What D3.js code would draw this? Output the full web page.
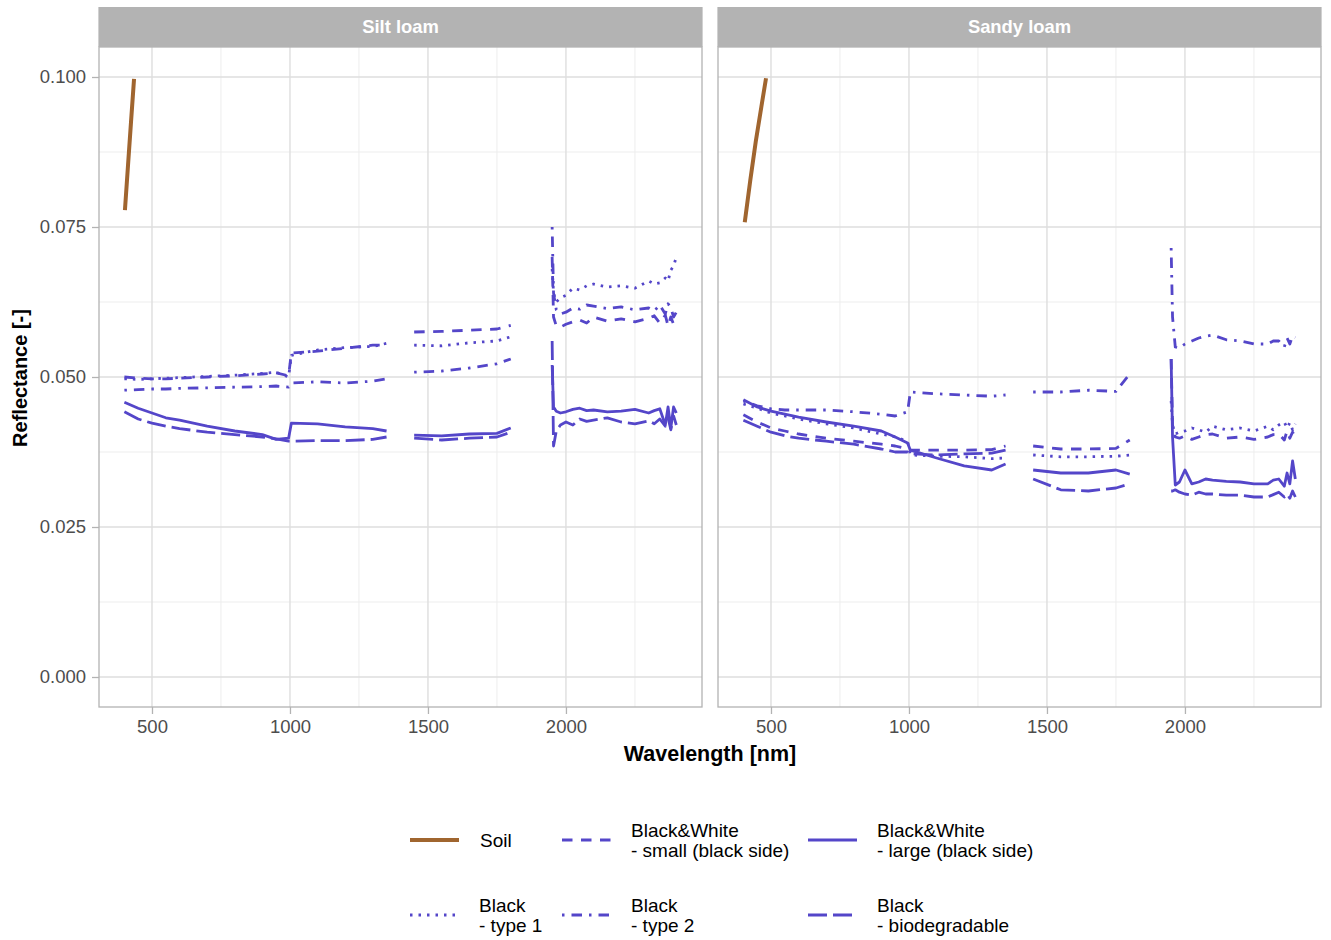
<!DOCTYPE html>
<html>
<head>
<meta charset="utf-8">
<script src="https://cdn.jsdelivr.net/npm/d3@7"></script>
<style>
  body { margin: 0; background: #fff; }
  text { font-family: "Liberation Sans", Arial, sans-serif; }
</style>
</head>
<body>
<script>
// ---- data ----
// wavelength grid (nm); null = removed water absorption band
var wavelengths = [400,450,500,550,600,700,800,900,950,995,
  1005,1100,1200,1300,1350, null,
  1450,1550,1650,1750,1800, null,
  1950,1955,1965,1980,2000,2025,2050,2075,2100,2150,2200,2250,2300,2320,2340,2360,2370,2380,2390,2400];

var soilWlSilt = [402,413,424,435];
var soilSilt = [0.0778,0.0852,0.0925,0.0997];
var soilWlSandy = [405,425,445,465,482];
var soilSandy = [0.0758,0.0828,0.0893,0.0950,0.0998];

var siltBwSmall = [0.0500,0.0498,0.0497,0.0497,0.0498,0.0500,0.0502,0.0505,0.0507,0.0502,
  0.0540,0.0543,0.0548,0.0553,0.0553, null,
  0.0575,0.0576,0.0578,0.0580,0.0586, null,
  0.0700,0.0600,0.0585,0.0583,0.0588,0.0592,0.0595,0.0590,0.0600,0.0593,0.0597,0.0592,0.0598,0.0602,0.0590,0.0603,0.0585,0.0600,0.0588,0.0582];
var siltBwLarge = [0.0458,0.0448,0.0440,0.0432,0.0428,0.0418,0.0410,0.0404,0.0396,0.0398,
  0.0423,0.0422,0.0417,0.0414,0.0410, null,
  0.0403,0.0402,0.0405,0.0406,0.0415, null,
  0.0520,0.0450,0.0443,0.0440,0.0442,0.0446,0.0448,0.0444,0.0445,0.0442,0.0443,0.0446,0.0440,0.0444,0.0447,0.0420,0.0450,0.0415,0.0450,0.0440];
var siltType1 = [0.0497,0.0496,0.0497,0.0498,0.0499,0.0501,0.0503,0.0506,0.0508,0.0500,
  0.0536,0.0545,0.0549,0.0551,0.0556, null,
  0.0553,0.0552,0.0557,0.0560,0.0567, null,
  0.0680,0.0640,0.0625,0.0632,0.0636,0.0648,0.0645,0.0652,0.0655,0.0650,0.0652,0.0648,0.0660,0.0655,0.0657,0.0665,0.0660,0.0678,0.0685,0.0700];
var siltType2 = [0.0478,0.0479,0.0480,0.0480,0.0481,0.0482,0.0483,0.0484,0.0485,0.0483,
  0.0490,0.0492,0.0490,0.0493,0.0497, null,
  0.0508,0.0510,0.0515,0.0522,0.0530, null,
  0.0750,0.0640,0.0612,0.0605,0.0608,0.0615,0.0613,0.0620,0.0618,0.0614,0.0617,0.0612,0.0615,0.0610,0.0620,0.0605,0.0622,0.0616,0.0600,0.0608];
var siltBiodeg = [0.0442,0.0430,0.0423,0.0418,0.0414,0.0408,0.0404,0.0400,0.0397,0.0393,
  0.0393,0.0394,0.0394,0.0396,0.0400, null,
  0.0398,0.0395,0.0398,0.0400,0.0408, null,
  0.0560,0.0385,0.0410,0.0420,0.0425,0.0420,0.0430,0.0426,0.0428,0.0432,0.0425,0.0422,0.0427,0.0422,0.0430,0.0418,0.0432,0.0412,0.0435,0.0420];

var sandyBwSmall = [0.0437,0.0425,0.0415,0.0410,0.0405,0.0398,0.0393,0.0388,0.0385,0.0380,
  0.0378,0.0378,0.0378,0.0379,0.0385, null,
  0.0385,0.0380,0.0380,0.0381,0.0395, null,
  0.0530,0.0420,0.0400,0.0398,0.0402,0.0396,0.0400,0.0404,0.0405,0.0398,0.0400,0.0396,0.0400,0.0404,0.0405,0.0395,0.0410,0.0398,0.0408,0.0400];
var sandyBwLarge = [0.0462,0.0450,0.0443,0.0438,0.0433,0.0425,0.0418,0.0410,0.0400,0.0390,
  0.0378,0.0365,0.0352,0.0345,0.0355, null,
  0.0345,0.0340,0.0340,0.0345,0.0338, null,
  0.0530,0.0400,0.0320,0.0325,0.0345,0.0322,0.0325,0.0330,0.0328,0.0326,0.0325,0.0322,0.0322,0.0328,0.0330,0.0318,0.0340,0.0322,0.0360,0.0330];
var sandyType1 = [0.0455,0.0448,0.0440,0.0435,0.0430,0.0422,0.0415,0.0405,0.0400,0.0393,
  0.0370,0.0368,0.0367,0.0364,0.0365, null,
  0.0370,0.0367,0.0367,0.0368,0.0370, null,
  0.0460,0.0420,0.0405,0.0408,0.0410,0.0415,0.0412,0.0408,0.0418,0.0412,0.0415,0.0410,0.0418,0.0412,0.0420,0.0425,0.0415,0.0424,0.0412,0.0422];
var sandyType2 = [0.0460,0.0452,0.0447,0.0445,0.0445,0.0445,0.0442,0.0438,0.0435,0.0442,
  0.0475,0.0472,0.0470,0.0468,0.0470, null,
  0.0475,0.0475,0.0478,0.0476,0.0505, null,
  0.0715,0.0600,0.0550,0.0548,0.0555,0.0560,0.0565,0.0568,0.0570,0.0562,0.0560,0.0555,0.0555,0.0560,0.0560,0.0550,0.0565,0.0555,0.0568,0.0566];
var sandyBiodeg = [0.0428,0.0418,0.0408,0.0402,0.0398,0.0393,0.0388,0.0380,0.0375,0.0375,
  0.0372,0.0370,0.0372,0.0373,0.0378, null,
  0.0330,0.0312,0.0310,0.0315,0.0322, null,
  0.0310,0.0310,0.0312,0.0308,0.0305,0.0303,0.0308,0.0305,0.0305,0.0303,0.0303,0.0300,0.0300,0.0304,0.0308,0.0300,0.0305,0.0298,0.0310,0.0300];

var panelNames = ["Silt loam", "Sandy loam"];
var seriesLabels = [["Soil"], ["Black&White", "- small (black side)"], ["Black&White", "- large (black side)"],
  ["Black", "- type 1"], ["Black", "- type 2"], ["Black", "- biodegradable"]];
var xTicks = [500, 1000, 1500, 2000];
var xMinor = [750, 1250, 1750, 2250];
var yTicks = [0, 0.025, 0.05, 0.075, 0.1];
var yMinor = [0.0125, 0.0375, 0.0625, 0.0875];

// ---- styles ----
var purple = "#5446c9";
var brown = "#a0652f";
var dashes = ["none", "10.5,8.5", "none", "2.5,6", "2.5,7,10.5,7", "19,6"];
var colors = [brown, purple, purple, purple, purple, purple];
var widths = [4, 2.8, 2.8, 2.8, 2.8, 2.8];

var w = 1331, h = 940;
var panelW = 603, panelH = 660, panelTop = 47;
var panelX = [99, 718];

var svg = d3.select("body").append("svg")
  .attr("width", w)
  .attr("height", h)
  .style("background-color", "white");

var xScale = d3.scaleLinear().domain([308, 2493]).range([0, panelW]);
var yScale = d3.scaleLinear().domain([-0.005, 0.105]).range([panelH, 0]);

var panelSeries = [
  [siltBwSmall, siltBwLarge, siltType1, siltType2, siltBiodeg],
  [sandyBwSmall, sandyBwLarge, sandyType1, sandyType2, sandyBiodeg]
];
var soilData = [[soilWlSilt, soilSilt], [soilWlSandy, soilSandy]];

var line = d3.line()
  .defined(function(d){ return d[0] != null && d[1] != null; })
  .x(function(d){ return xScale(d[0]); })
  .y(function(d){ return yScale(d[1]); });

svg.append("defs").append("clipPath").attr("id", "clip")
  .append("rect").attr("width", panelW).attr("height", panelH);

panelNames.forEach(function(name, p){
  var g = svg.append("g").attr("transform", "translate(" + panelX[p] + "," + panelTop + ")");

  // minor grid
  g.append("g").selectAll("line").data(xMinor).join("line")
    .attr("x1", function(d){ return xScale(d); }).attr("x2", function(d){ return xScale(d); })
    .attr("y1", 0).attr("y2", panelH)
    .attr("stroke", "#ededed").attr("stroke-width", 1);
  g.append("g").selectAll("line").data(yMinor).join("line")
    .attr("y1", function(d){ return yScale(d); }).attr("y2", function(d){ return yScale(d); })
    .attr("x1", 0).attr("x2", panelW)
    .attr("stroke", "#ededed").attr("stroke-width", 1);
  // major grid
  g.append("g").selectAll("line").data(xTicks).join("line")
    .attr("x1", function(d){ return xScale(d); }).attr("x2", function(d){ return xScale(d); })
    .attr("y1", 0).attr("y2", panelH)
    .attr("stroke", "#dedede").attr("stroke-width", 1.4);
  g.append("g").selectAll("line").data(yTicks).join("line")
    .attr("y1", function(d){ return yScale(d); }).attr("y2", function(d){ return yScale(d); })
    .attr("x1", 0).attr("x2", panelW)
    .attr("stroke", "#dedede").attr("stroke-width", 1.4);

  var lines = g.append("g").attr("clip-path", "url(#clip)");

  // soil
  var soil = soilData[p];
  lines.append("path")
    .datum(d3.zip(soil[0], soil[1]))
    .attr("d", line)
    .attr("fill", "none")
    .attr("stroke", colors[0])
    .attr("stroke-width", widths[0]);

  panelSeries[p].forEach(function(vals, i){
    lines.append("path")
      .datum(d3.zip(wavelengths, vals))
      .attr("d", line)
      .attr("fill", "none")
      .attr("stroke", colors[i + 1])
      .attr("stroke-width", widths[i + 1])
      .attr("stroke-dasharray", dashes[i + 1])
      .attr("stroke-linejoin", "round");
  });

  // border
  g.append("rect").attr("width", panelW).attr("height", panelH)
    .attr("fill", "none").attr("stroke", "#b3b3b3").attr("stroke-width", 1.3);

  // strip
  g.append("rect").attr("x", -0.6).attr("y", -40).attr("width", panelW + 1.2).attr("height", 40)
    .attr("fill", "#b3b3b3");
  g.append("text").attr("x", panelW / 2).attr("y", -20).attr("dy", "0.35em")
    .attr("text-anchor", "middle").attr("fill", "white")
    .attr("font-size", "18.4px").attr("font-weight", "bold")
    .text(name);

  // x axis
  var xAxis = g.append("g").attr("transform", "translate(0," + panelH + ")")
    .call(d3.axisBottom(xScale).tickValues(xTicks).tickSize(7).tickPadding(6).tickFormat(d3.format("d")));
  xAxis.select(".domain").remove();
  xAxis.selectAll("line").attr("stroke", "#b3b3b3").attr("stroke-width", 1.3);
  xAxis.selectAll("text").attr("fill", "#4d4d4d").attr("font-size", "18.5px")
    .style("font-family", "'Liberation Sans', Arial, sans-serif");

  if (p === 0) {
    var yAxis = g.append("g")
      .call(d3.axisLeft(yScale).tickValues(yTicks).tickSize(7).tickPadding(6).tickFormat(d3.format(".3f")));
    yAxis.select(".domain").remove();
    yAxis.selectAll("line").attr("stroke", "#b3b3b3").attr("stroke-width", 1.3);
    yAxis.selectAll("text").attr("fill", "#4d4d4d").attr("font-size", "18.5px")
      .style("font-family", "'Liberation Sans', Arial, sans-serif");
  }
});

// axis titles
svg.append("text").attr("x", 710).attr("y", 761)
  .attr("text-anchor", "middle").attr("font-size", "21.5px").attr("font-weight", "bold")
  .attr("fill", "black").text("Wavelength [nm]");
svg.append("text").attr("transform", "translate(27,378) rotate(-90)")
  .attr("text-anchor", "middle").attr("font-size", "20px").attr("font-weight", "bold")
  .attr("fill", "black").text("Reflectance [-]");

// legend
var keyX = [410, 562, 808];
var rowY = [840, 915];
var legend = svg.append("g");
seriesLabels.forEach(function(lab, i){
  var col = i % 3, row = Math.floor(i / 3);
  var kx = keyX[col], ky = rowY[row];
  legend.append("path")
    .datum([[kx, ky], [kx + 49, ky]])
    .attr("d", d3.line())
    .attr("stroke", colors[i])
    .attr("stroke-width", widths[i])
    .attr("stroke-dasharray", dashes[i])
    .attr("fill", "none");
  var t = legend.append("text").attr("x", kx + 70).attr("y", ky)
    .attr("font-size", "19px").attr("fill", "black");
  if (lab.length === 1) {
    t.append("tspan").attr("x", kx + 70).attr("dy", "0.35em").text(lab[0]);
  } else {
    t.append("tspan").attr("x", kx + 69).attr("dy", "-0.18em").text(lab[0]);
    t.append("tspan").attr("x", kx + 69).attr("dy", "1.1em").text(lab[1]);
  }
});
</script>
</body>
</html>
